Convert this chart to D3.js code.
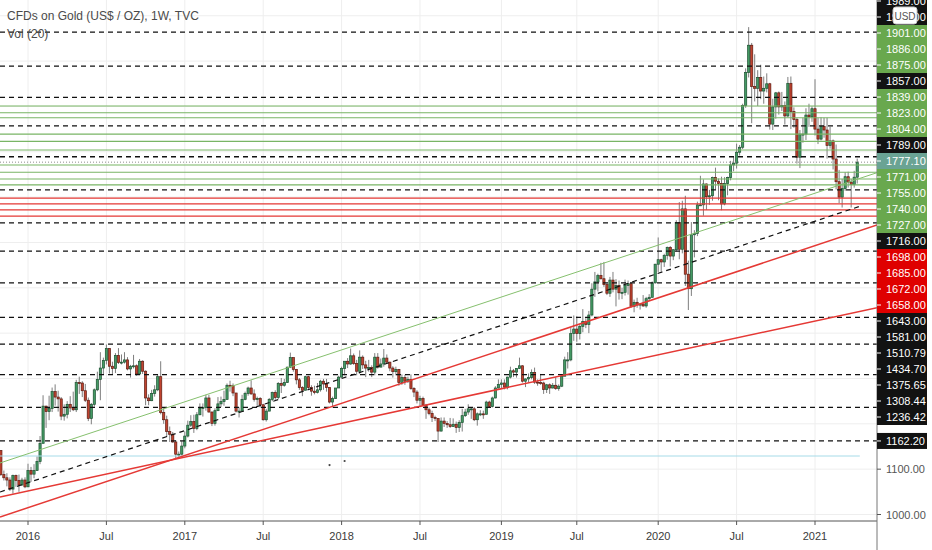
<!DOCTYPE html>
<html>
<head>
<meta charset="utf-8">
<script src="https://cdn.jsdelivr.net/npm/d3@7"></script>
<style>
html, body { margin: 0; padding: 0; background: #fff; }
svg { display: block; font-family: "Liberation Sans", Arial, sans-serif; }
</style>
</head>
<body>
<svg id="chart" width="932" height="550"></svg>
<script>
// weekly bars, first one is the week of 2015-11-02
const firstWeek = "2015-11-02";

const opens = [
    1141,1088,1081,1076,1056,1086,1075,1065,1076,
    1061,1097,1089,1097,1117,1157,1239,1227,1234,1271,1259,1255,1217,1221,1243,1235,1231,1291,1290,1273,1252,1212,1243,1275,1298,1323,1340,1366,1327,1322,1351,1335,1336,1341,1321,1327,1328,1310,1338,1316,1257,1251,1267,1275,1304,1225,1209,1183,1177,1160,1133,1133,
    1151,1173,1197,1205,1190,1220,1234,1236,1257,1226,1201,1229,1244,1249,1254,1285,1284,1268,1228,1228,1254,1267,1279,1266,1254,1256,1242,1209,1228,1254,1269,1258,1289,1285,1291,1325,1346,1320,1297,1280,1274,1304,1280,1272,1269,1275,1294,1288,1280,1248,1256,1279,
    1303,1322,1338,1332,1350,1333,1316,1347,1330,1323,1324,1314,1347,1325,1332,1345,1336,1323,1315,1320,1291,1302,1294,1298,1278,1270,1252,1256,1241,1231,1223,1214,1212,1184,1206,1201,1198,1194,1199,1192,1203,1218,1226,1233,1233,1209,1222,1222,1221,1248,1238,1257,1279,
    1287,1290,1281,1303,1317,1314,1322,1328,1294,1299,1302,1313,1292,1291,1290,1276,1286,1279,1285,1278,1283,1305,1341,1341,1399,1409,1399,1415,1426,1419,1440,1497,1513,1527,1520,1507,1488,1517,1497,1505,1489,1490,1505,1509,1459,1468,1462,1464,1460,1476,1479,1511,
    1552,1562,1557,1571,1589,1570,1584,1644,1585,1674,1530,1498,1617,1620,1683,1683,1729,1701,1703,1743,1735,1730,1685,1730,1743,1771,1775,1799,1810,1902,1975,2035,1944,1940,1964,1934,1940,1950,1861,1899,1930,1899,1902,1879,1951,1889,1871,1788,1839,1839,1881,1877,
    1895,1850,1828,1856,1848,1814,1824,1784,1734,1700,1719,1745,1733,1728,1744
];
const highs = [
    1142,1097,1091,1082,1088,1088,1088,1081,1082,
    1112,1105,1111,1128,1173,1263,1240,1262,1280,1287,1273,1259,1243,1250,1261,1271,1297,1304,1294,1288,1258,1246,1278,1315,1358,1346,1375,1367,1337,1356,1367,1353,1358,1347,1330,1352,1331,1343,1340,1318,1265,1275,1285,1308,1338,1236,1218,1194,1182,1164,1139,1162,
    1183,1207,1219,1220,1226,1245,1245,1264,1264,1227,1234,1259,1260,1273,1289,1295,1289,1268,1236,1264,1271,1282,1296,1276,1260,1259,1244,1233,1257,1271,1274,1292,1301,1299,1326,1357,1346,1321,1301,1283,1306,1306,1285,1284,1290,1297,1299,1299,1281,1260,1279,1306,
    1326,1338,1345,1366,1355,1341,1362,1351,1339,1341,1329,1356,1356,1344,1365,1353,1337,1327,1326,1321,1309,1308,1304,1309,1281,1274,1262,1260,1244,1236,1229,1218,1212,1214,1214,1206,1213,1212,1205,1208,1233,1233,1243,1237,1237,1225,1230,1229,1251,1251,1260,1283,1298,
    1298,1298,1304,1326,1321,1323,1346,1329,1300,1311,1320,1324,1298,1310,1293,1288,1289,1290,1303,1287,1306,1348,1358,1411,1439,1437,1419,1453,1433,1449,1510,1535,1531,1555,1557,1510,1524,1535,1519,1516,1500,1518,1516,1512,1474,1478,1466,1484,1480,1486,1514,1553,
    1611,1564,1575,1591,1592,1585,1649,1689,1692,1703,1560,1645,1627,1690,1747,1739,1730,1716,1745,1765,1741,1745,1744,1745,1780,1789,1818,1815,1906,1984,2075,2040,2015,1980,1992,1966,1973,1952,1917,1932,1933,1932,1911,1965,1966,1898,1875,1848,1875,1896,1906,1900,
    1960,1875,1876,1875,1875,1855,1827,1816,1760,1740,1755,1756,1740,1758,1785
];
const lows = [
    1085,1075,1062,1052,1046,1061,1050,1064,1058,
    1061,1072,1080,1096,1111,1157,1191,1208,1226,1240,1227,1208,1207,1212,1226,1228,1226,1266,1259,1248,1206,1199,1238,1272,1252,1310,1331,1311,1310,1312,1332,1331,1333,1318,1302,1322,1306,1308,1310,1241,1241,1250,1260,1272,1221,1200,1171,1160,1158,1122,1124,1130,
    1146,1170,1193,1180,1186,1219,1216,1229,1225,1195,1196,1228,1237,1240,1253,1271,1261,1225,1214,1228,1252,1262,1264,1249,1240,1236,1207,1205,1228,1250,1253,1254,1268,1282,1290,1323,1315,1287,1275,1261,1274,1277,1262,1265,1267,1271,1275,1271,1245,1236,1255,1279,
    1302,1307,1323,1330,1330,1307,1311,1321,1303,1315,1303,1307,1322,1325,1326,1333,1316,1302,1307,1284,1286,1286,1290,1275,1259,1245,1237,1239,1211,1219,1204,1206,1160,1183,1193,1191,1191,1193,1180,1182,1183,1215,1220,1211,1206,1196,1217,1211,1221,1235,1236,1256,1278,
    1279,1276,1276,1300,1303,1302,1321,1291,1281,1291,1298,1288,1284,1286,1266,1268,1266,1278,1275,1273,1281,1305,1322,1338,1383,1381,1386,1402,1411,1400,1437,1480,1492,1518,1502,1484,1480,1490,1459,1474,1475,1483,1485,1456,1446,1456,1452,1458,1456,1471,1479,1509,
    1535,1536,1546,1562,1547,1561,1580,1563,1576,1504,1451,1482,1567,1614,1681,1659,1672,1683,1692,1717,1693,1671,1682,1704,1737,1757,1763,1792,1806,1897,1964,1863,1911,1901,1916,1906,1931,1849,1848,1873,1882,1890,1860,1876,1850,1853,1774,1764,1820,1826,1855,1866,
    1836,1817,1825,1831,1785,1807,1761,1717,1687,1677,1714,1721,1677,1721,1730
];
const closes = [
    1088,1081,1076,1056,1086,1075,1065,1076,1061,
    1097,1089,1097,1117,1157,1239,1227,1234,1271,1259,1255,1217,1221,1243,1235,1231,1291,1290,1273,1252,1212,1243,1275,1298,1323,1340,1366,1327,1322,1351,1335,1336,1341,1321,1327,1328,1310,1338,1316,1257,1251,1267,1275,1304,1225,1209,1183,1177,1160,1133,1133,1151,
    1173,1197,1205,1190,1220,1234,1236,1257,1226,1201,1229,1244,1249,1254,1285,1284,1268,1228,1228,1254,1267,1279,1266,1254,1256,1242,1209,1228,1254,1269,1258,1289,1285,1291,1325,1346,1320,1297,1280,1274,1304,1280,1272,1269,1275,1294,1288,1280,1248,1256,1279,1303,
    1322,1338,1332,1350,1333,1316,1347,1330,1323,1324,1314,1347,1325,1332,1345,1336,1323,1315,1320,1291,1302,1294,1298,1278,1270,1252,1256,1241,1231,1223,1214,1212,1184,1206,1201,1198,1194,1199,1192,1203,1218,1226,1233,1233,1209,1222,1222,1221,1248,1238,1257,1279,1287,
    1290,1281,1303,1317,1314,1322,1328,1294,1299,1302,1313,1292,1291,1290,1276,1286,1279,1285,1278,1283,1305,1341,1341,1399,1409,1399,1415,1426,1419,1440,1497,1513,1527,1520,1507,1488,1517,1497,1505,1489,1490,1505,1509,1459,1468,1462,1464,1460,1476,1479,1511,1552,
    1562,1557,1571,1589,1570,1584,1644,1585,1674,1530,1498,1617,1620,1683,1683,1729,1701,1703,1743,1735,1730,1685,1730,1743,1771,1775,1799,1810,1902,1975,2035,1944,1940,1964,1934,1940,1950,1861,1899,1930,1899,1902,1879,1951,1889,1871,1788,1839,1839,1881,1877,1895,
    1850,1828,1856,1848,1814,1824,1784,1734,1700,1719,1745,1733,1728,1744,1777.10
];

// horizontal levels drawn on the chart
const dashedLevels = [1989, 1920, 1857, 1789, 1716, 1643, 1581, 1510.79, 1434.70, 1375.65, 1308.44, 1236.42, 1162.20];
const unlabeledLevels = [2064];
const greenLevels = [1901, 1886, 1875, 1839, 1823, 1804, 1771, 1755, 1740, 1727];
const redLevels = [1698, 1685, 1672, 1658];
const lastPrice = 1777.10;
const priceTicks = [1000, 1100, 1200, 1300, 1400, 1500, 1600, 1700, 1800, 1900, 2000, 2100];

// trend lines: [date, price] anchors
const greenTrend = [["2015-10-31", 1113.6], ["2021-05-28", 1753.9]];
const blackTrend = [["2015-10-31", 1049.6], ["2021-04-23", 1681.3]];
const redTrendSteep = [["2015-10-31", 994.5], ["2021-05-28", 1638.5]];
const redTrendFlat = [["2015-10-31", 1038.6], ["2021-05-28", 1456.3]];
const cyanRay = [["2015-10-31", 1129], ["2021-04-18", 1129]];
const markerDots = [["2017-12-04", 1109], ["2018-01-08", 1118]];

const W = 932, H = 550;
const plotW = 877, plotH = 521;
const parse = d3.utcParse("%Y-%m-%d");

const svg = d3.select("#chart");

const x = d3.scaleUtc()
    .domain([parse("2016-01-04"), parse("2021-01-04")])
    .range([28, 815]);
const y = d3.scaleLinear()
    .domain([1000, 2000])
    .range([514.5, 61.1]);

const dates = opens.map((_, i) => d3.utcMonday.offset(parse(firstWeek), i));
const bars = dates.map((d, i) => ({ date: d, o: opens[i], h: highs[i], l: lows[i], c: closes[i] }));

svg.append("defs").append("clipPath").attr("id", "plot-clip")
    .append("rect").attr("x", 0).attr("y", 0).attr("width", plotW).attr("height", plotH);

const plot = svg.append("g").attr("clip-path", "url(#plot-clip)");

// time ticks: first bar of each January / July
const tickBars = [];
d3.utcMonth.every(6).range(parse("2016-01-01"), parse("2021-04-01")).forEach(m => {
    let b = bars.find(b => b.date >= m);
    if (b) tickBars.push({ date: b.date, label: m.getUTCMonth() === 0 ? String(m.getUTCFullYear()) : "Jul" });
});

// grid
plot.append("g").selectAll("line").data(tickBars).join("line")
    .attr("x1", d => x(d.date)).attr("x2", d => x(d.date))
    .attr("y1", 0).attr("y2", plotH)
    .attr("stroke", "#eeeeee");
plot.append("g").selectAll("line").data(priceTicks).join("line")
    .attr("x1", 0).attr("x2", plotW)
    .attr("y1", d => y(d)).attr("y2", d => y(d))
    .attr("stroke", "#eeeeee");

// candles
const candles = plot.append("g");
candles.selectAll("line").data(bars).join("line")
    .attr("x1", d => x(d.date)).attr("x2", d => x(d.date))
    .attr("y1", d => y(d.h)).attr("y2", d => y(d.l))
    .attr("stroke", "#6f6f6f")
    .attr("stroke-width", 0.9);
candles.selectAll("rect").data(bars).join("rect")
    .attr("x", d => x(d.date) - 1.1)
    .attr("width", 2.2)
    .attr("y", d => y(Math.max(d.o, d.c)))
    .attr("height", d => Math.max(1, Math.abs(y(d.o) - y(d.c))))
    .attr("fill", d => d.c >= d.o ? "#449a64" : "#c0432f")
    .attr("stroke", d => d.c >= d.o ? "#1d5232" : "#5e1c12")
    .attr("stroke-width", 0.7);

// horizontal levels
function hlines(levels, color, dash, width) {
    plot.append("g").selectAll("line").data(levels).join("line")
        .attr("x1", 0).attr("x2", plotW)
        .attr("y1", d => y(d)).attr("y2", d => y(d))
        .attr("stroke", color)
        .attr("stroke-width", width)
        .attr("stroke-dasharray", dash);
}
hlines(greenLevels, "#79b565", null, 1.1);
hlines(redLevels, "#e53935", null, 1.3);
hlines(dashedLevels.concat(unlabeledLevels), "#111111", "5,4", 1.3);
hlines([lastPrice], "#8d8d8d", "1,2", 1);

// trend lines
const trend = d3.line().x(d => x(parse(d[0]))).y(d => y(d[1]));
plot.append("path").attr("d", trend(cyanRay)).attr("fill", "none").attr("stroke", "#a6dbe8").attr("stroke-width", 1);
plot.append("path").attr("d", trend(greenTrend)).attr("fill", "none").attr("stroke", "#86c06e").attr("stroke-width", 1);
plot.append("path").attr("d", trend(blackTrend)).attr("fill", "none").attr("stroke", "#111111").attr("stroke-width", 1.2).attr("stroke-dasharray", "5,4");
plot.append("path").attr("d", trend(redTrendSteep)).attr("fill", "none").attr("stroke", "#e53935").attr("stroke-width", 1.5);
plot.append("path").attr("d", trend(redTrendFlat)).attr("fill", "none").attr("stroke", "#e53935").attr("stroke-width", 1.5);

plot.append("g").selectAll("circle").data(markerDots).join("circle")
    .attr("cx", d => x(parse(d[0]))).attr("cy", d => y(d[1]))
    .attr("r", 1.1).attr("fill", "#444");

// axes lines
svg.append("line").attr("x1", 0).attr("x2", plotW).attr("y1", plotH).attr("y2", plotH)
    .attr("stroke", "#555").attr("stroke-width", 1);
svg.append("line").attr("x1", plotW).attr("x2", plotW).attr("y1", 0).attr("y2", H)
    .attr("stroke", "#777").attr("stroke-width", 1);

// time axis labels
const tAxis = svg.append("g");
tAxis.selectAll("line").data(tickBars).join("line")
    .attr("x1", d => x(d.date)).attr("x2", d => x(d.date))
    .attr("y1", plotH).attr("y2", plotH + 4)
    .attr("stroke", "#555");
tAxis.selectAll("text").data(tickBars).join("text")
    .attr("x", d => x(d.date)).attr("y", plotH + 19)
    .attr("text-anchor", "middle")
    .attr("font-size", 11)
    .attr("fill", "#3a3a3a")
    .text(d => d.label);

// price labels, stacked so they don't overlap
const labelH = 16;
const labels = []
    .concat(dashedLevels.map(p => ({ p, bg: "#121212" })))
    .concat(greenLevels.map(p => ({ p, bg: "#69a84e" })))
    .concat(redLevels.map(p => ({ p, bg: "#df0000" })))
    .concat([{ p: lastPrice, bg: "#6aa394" }])
    .sort((a, b) => b.p - a.p);
labels.forEach(d => d.y0 = y(d.p));

let clusters = labels.map(d => ({ items: [d] }));
let merged = true;
while (merged) {
    merged = false;
    clusters.forEach(c => {
        c.top = d3.mean(c.items, d => d.y0) - c.items.length * labelH / 2;
    });
    if (clusters[0].top < 1 - labelH / 2) clusters[0].top = 1 - labelH / 2;
    for (let i = 0; i < clusters.length - 1; i++) {
        let a = clusters[i], b = clusters[i + 1];
        if (a.top + a.items.length * labelH > b.top) {
            clusters.splice(i, 2, { items: a.items.concat(b.items) });
            merged = true;
            break;
        }
    }
}
clusters.forEach(c => c.items.forEach((d, k) => d.ly = c.top + (k + 0.5) * labelH));

const fmt = d3.format(".2f");

// plain price ticks where no label covers them
const freeTicks = priceTicks.filter(p => {
    let ty = y(p);
    return ty > 8 && ty < plotH && labels.every(l => Math.abs(l.ly - ty) >= labelH);
});
const pAxis = svg.append("g");
pAxis.selectAll("line").data(freeTicks).join("line")
    .attr("x1", plotW).attr("x2", plotW + 4)
    .attr("y1", d => y(d)).attr("y2", d => y(d))
    .attr("stroke", "#555");
pAxis.selectAll("text").data(freeTicks).join("text")
    .attr("x", plotW + 9).attr("y", d => y(d) + 4)
    .attr("font-size", 11)
    .attr("fill", "#555")
    .text(d => fmt(d));

const lab = svg.append("g").selectAll("g").data(labels).join("g")
    .attr("transform", d => `translate(${plotW},${d.ly})`);
lab.append("rect")
    .attr("x", 0).attr("y", -labelH / 2)
    .attr("width", 50).attr("height", labelH)
    .attr("fill", d => d.bg);
lab.append("line")
    .attr("x1", 0).attr("x2", 4).attr("y1", 0).attr("y2", 0)
    .attr("stroke", "#fff");
lab.append("text")
    .attr("x", 9).attr("y", 4)
    .attr("font-size", 11)
    .attr("fill", "#fff")
    .text(d => fmt(d.p));

// currency badge
svg.append("rect").attr("x", 893).attr("y", 7).attr("width", 24).attr("height", 17).attr("rx", 3)
    .attr("fill", "#fff").attr("stroke", "#c9c9c9");
svg.append("text").attr("x", 905).attr("y", 19.5).attr("text-anchor", "middle")
    .attr("font-size", 10).attr("fill", "#555").text("USD");

// legend
svg.append("text").attr("x", 7).attr("y", 20)
    .attr("font-size", 12).attr("fill", "#4a4a4a")
    .text("CFDs on Gold (US$ / OZ), 1W, TVC");
svg.append("text").attr("x", 7).attr("y", 38)
    .attr("font-size", 12).attr("fill", "#4a4a4a")
    .text("Vol (20)");
</script>
</body>
</html>
